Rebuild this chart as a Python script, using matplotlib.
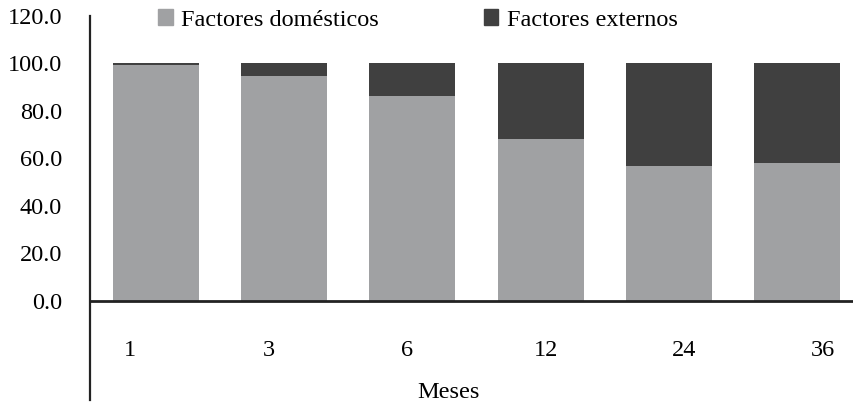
import matplotlib
matplotlib.use("Agg")
import matplotlib.pyplot as plt
import numpy as np
from matplotlib.patches import Patch

plt.rcParams['font.family'] = ['Liberation Serif', 'DejaVu Serif']

categories = ["1", "3", "6", "12", "24", "36"]
domesticos = [99.4, 94.8, 86.4, 68.3, 56.9, 58.2]
externos = [100 - d for d in domesticos]
yticks = [0, 20, 40, 60, 80, 100, 120]

c_dom = "#A0A1A3"
c_ext = "#404040"
fs = 17.5

fig = plt.figure(figsize=(8.54, 4.03), dpi=100)
W, H = 854, 403
ax = fig.add_axes([90 / W, 3 / H, 764 / W, 384 / H])

x = np.arange(len(categories))
ax.bar(x, domesticos, width=0.67, color=c_dom, zorder=2)
ax.bar(x, externos, bottom=domesticos, width=0.67, color=c_ext, zorder=2)

ax.set_xlim(-0.515, 5.445)
ax.set_ylim(-41.7, 120)
ax.set_yticks(yticks)
ax.set_yticklabels([f"{v:.1f}" for v in yticks], fontsize=fs)
ax.tick_params(axis='y', length=0, pad=20)

# category labels (shifted layout as in the reference)
ax.spines['bottom'].set_position(('data', 0))
ax.set_xticks(np.linspace(-0.2, 5.2, len(categories)))
ax.set_xticklabels(categories, fontsize=fs)
ax.tick_params(axis='x', length=0, pad=28)

for s in ['top', 'right']:
    ax.spines[s].set_visible(False)
ax.spines['left'].set_linewidth(1.6)
ax.spines['left'].set_color("#222222")
ax.spines['bottom'].set_linewidth(2.0)
ax.spines['bottom'].set_color("#222222")
ax.spines['bottom'].set_zorder(3)

fig.text(448 / W, 1 - 392 / H, "Meses", ha='center', va='center', fontsize=fs)

handles = [Patch(color=c_dom, label="Factores domésticos"),
           Patch(color=c_ext, label="Factores externos")]
fig.legend(handles=handles, loc='center', bbox_to_anchor=(418 / W, 1 - 20 / H),
           ncol=2, frameon=False, fontsize=fs, handlelength=0.6, handleheight=0.6,
           handletextpad=0.35, columnspacing=4.3, borderpad=0)

fig.savefig("out.png", dpi=100)
